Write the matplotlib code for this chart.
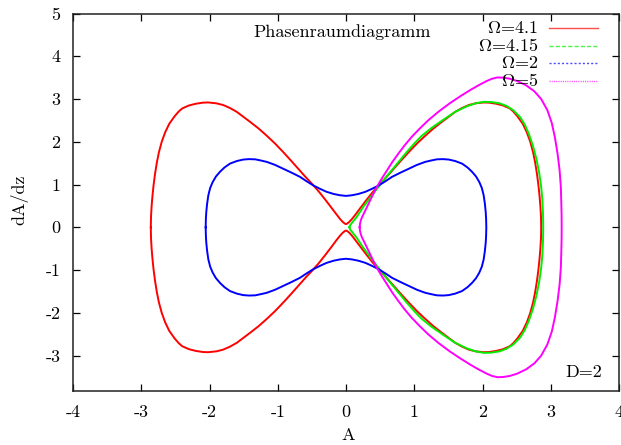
import numpy as np
import matplotlib
matplotlib.use("Agg")
import matplotlib.pyplot as plt

plt.rcParams["mathtext.fontset"] = "cm"
plt.rcParams["axes.unicode_minus"] = False

# upper-left quarter of the two-lobed orbits (mirrored to close them)
red_A = [-2.860, -2.857, -2.848, -2.836, -2.820, -2.798, -2.772, -2.742,
         -2.700, -2.650, -2.590, -2.510, -2.450, -2.400, -2.300, -2.200,
         -2.100, -2.020, -1.900, -1.800, -1.700, -1.600, -1.500, -1.400,
         -1.280, -1.160, -1.040, -0.920, -0.800, -0.700, -0.600, -0.500,
         -0.400, -0.300, -0.200, -0.140, -0.090, -0.050, -0.020, 0.000]
red_dA = [0.00, 0.25, 0.50, 0.73, 0.98, 1.25, 1.51, 1.75,
          2.00, 2.22, 2.42, 2.60, 2.71, 2.78, 2.85, 2.89,
          2.915, 2.92, 2.90, 2.86, 2.79, 2.70, 2.58, 2.46,
          2.31, 2.14, 1.96, 1.76, 1.55, 1.37, 1.19, 1.02,
          0.84, 0.64, 0.43, 0.30, 0.20, 0.13, 0.09, 0.075]

blue_A = [-2.056, -2.053, -2.047, -2.035, -2.017, -1.990, -1.953, -1.905,
          -1.846, -1.780, -1.700, -1.600, -1.505, -1.420, -1.330, -1.240,
          -1.160, -1.040, -0.920, -0.800, -0.674, -0.580, -0.480, -0.380,
          -0.283, -0.180, -0.088, 0.000]
blue_dA = [0.00, 0.20, 0.36, 0.55, 0.75, 0.92, 1.06, 1.19,
           1.30, 1.40, 1.49, 1.55, 1.585, 1.595, 1.59, 1.56,
           1.53, 1.46, 1.37, 1.28, 1.18, 1.08, 0.98, 0.90,
           0.83, 0.78, 0.75, 0.735]

# upper half of the single right-hand orbits
green_A = [0.050, 0.055, 0.065, 0.085, 0.120, 0.160, 0.250, 0.400, 0.550,
           0.740, 0.890, 1.000, 1.110, 1.250, 1.430, 1.600, 1.770, 1.900,
           2.020, 2.130, 2.250, 2.350, 2.450, 2.550, 2.620, 2.680, 2.740,
           2.790, 2.830, 2.860, 2.878, 2.887, 2.890]
green_dA = [0.00, 0.03, 0.06, 0.10, 0.17, 0.25, 0.47, 0.79, 1.10,
            1.47, 1.76, 1.96, 2.14, 2.32, 2.52, 2.70, 2.83, 2.90,
            2.935, 2.93, 2.90, 2.84, 2.74, 2.58, 2.40, 2.18, 1.90,
            1.60, 1.28, 0.95, 0.62, 0.30, 0.00]

mag_A = [0.200, 0.205, 0.215, 0.230, 0.260, 0.300, 0.330, 0.390, 0.450,
         0.520, 0.600, 0.680, 0.770, 0.860, 0.960, 1.080, 1.210, 1.360,
         1.520, 1.670, 1.820, 1.940, 2.060, 2.140, 2.220, 2.300, 2.400,
         2.510, 2.640, 2.760, 2.860, 2.950, 3.015, 3.060, 3.100, 3.130,
         3.148, 3.155, 3.159, 3.160]
mag_dA = [0.00, 0.08, 0.15, 0.22, 0.32, 0.45, 0.55, 0.75, 0.94,
          1.13, 1.33, 1.53, 1.73, 1.92, 2.11, 2.31, 2.51, 2.71,
          2.90, 3.06, 3.21, 3.32, 3.42, 3.475, 3.505, 3.50, 3.475,
          3.42, 3.32, 3.18, 3.00, 2.74, 2.44, 2.11, 1.72, 1.33,
          0.94, 0.55, 0.28, 0.00]

labels = [r"$\Omega$=4.1", r"$\Omega$=4.15", r"$\Omega$=2", r"$\Omega$=5"]
colors = ["#ff0000", "#00ee00", "#0000ff", "#ff00ff"]
dashes = [(None, None), (3, 1.5), (1.5, 1.5), (0.8, 0.8)]

xticks = [-4, -3, -2, -1, 0, 1, 2, 3, 4]
yticks = [-3, -2, -1, 0, 1, 2, 3, 4, 5]


def full_orbit(qa, qd):
    # quarter -> upper half (mirror in A) -> closed loop (mirror in dA)
    qa, qd = np.asarray(qa), np.asarray(qd)
    ua = np.concatenate([qa, -qa[::-1][1:]])
    ud = np.concatenate([qd, qd[::-1][1:]])
    return np.concatenate([ua, ua[::-1]]), np.concatenate([ud, -ud[::-1]])


def half_orbit(ha, hd):
    ha, hd = np.asarray(ha), np.asarray(hd)
    return np.concatenate([ha, ha[::-1]]), np.concatenate([hd, -hd[::-1]])


curves = [full_orbit(red_A, red_dA), half_orbit(green_A, green_dA),
          full_orbit(blue_A, blue_dA), half_orbit(mag_A, mag_dA)]

fig = plt.figure(figsize=(6.21, 4.45), dpi=100)
ax = fig.add_axes([73 / 621, 1 - 390.7 / 445, 546 / 621, 377.2 / 445])

for (a, d), c in zip(curves, colors):
    ax.plot(a, d, color=c, lw=1.4, solid_joinstyle="round")

ax.set_xlim(-4, 4)
ax.set_ylim(-3.82, 5)
ax.set_xticks(xticks)
ax.set_yticks(yticks)
ax.set_xticklabels([str(t) for t in xticks])
ax.set_yticklabels([str(t) for t in yticks])
ax.tick_params(direction="in", length=5, width=0.9, top=True, right=True,
               labelsize=13)
ax.tick_params(axis="x", pad=10)
ax.tick_params(axis="y", pad=9)
for lab in ax.get_xticklabels() + ax.get_yticklabels():
    lab.set_family("cmr10")
for sp in ax.spines.values():
    sp.set_linewidth(1.1)
    sp.set_color("#222222")

ax.set_xlabel("A", family="cmr10", fontsize=13)
ax.set_ylabel("dA/dz", family="cmr10", fontsize=13)
ax.xaxis.set_label_coords(0.5033, -0.099)
ax.yaxis.set_label_coords(-0.0824, 0.506)

ax.text(0.4927, 0.951, "Phasenraumdiagramm", transform=ax.transAxes,
        ha="center", va="center", family="cmr10", fontsize=13)
ax.text(0.969, 0.0496, "D=2", transform=ax.transAxes, ha="right",
        va="center", family="cmr10", fontsize=13)

# key in the top right corner, text right-aligned in front of the samples
row_y = [28, 45.7, 63.3, 81]
for lab, c, ds, yp in zip(labels, colors, dashes, row_y):
    ya = (390.7 - yp) / 377.2
    ax.text((538 - 73) / 546, ya, lab, transform=ax.transAxes, ha="right",
            va="center", family="cmr10", fontsize=13)
    ln, = ax.plot([(549 - 73) / 546, (598 - 73) / 546], [ya, ya],
                  transform=ax.transAxes, color=c, lw=1.0, alpha=0.7)
    if ds[0] is not None:
        ln.set_dashes(ds)

fig.savefig("out.png", dpi=100)
